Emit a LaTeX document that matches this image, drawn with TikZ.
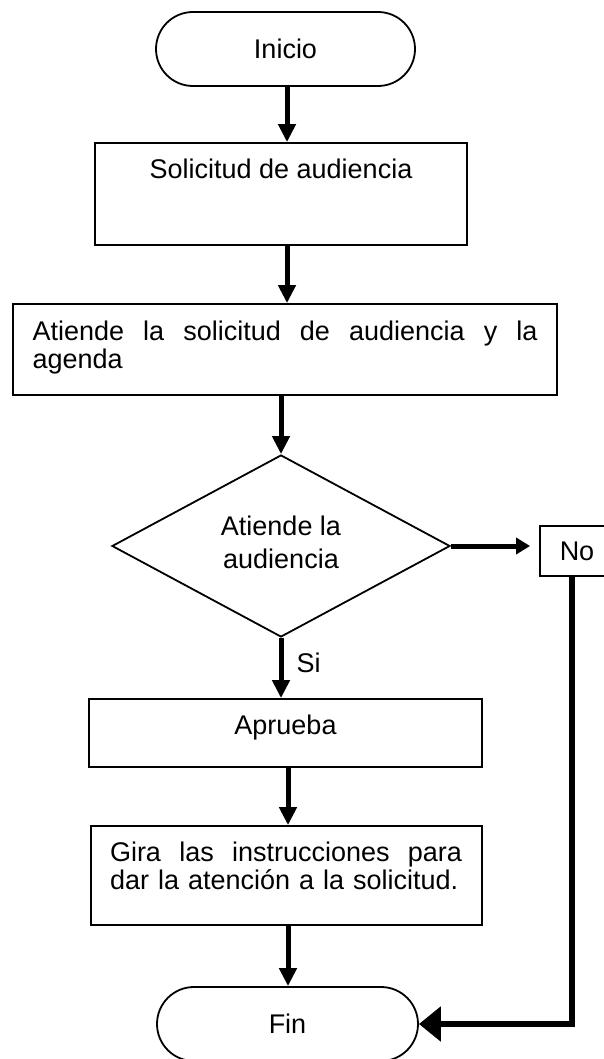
\documentclass[tikz,border=0pt]{standalone}
\usepackage{fontspec}
\setmainfont{Liberation Sans}
\usetikzlibrary{arrows.meta,shapes.geometric}
\tolerance=10000
\hyphenpenalty=10000
\begin{document}
\begin{tikzpicture}[x=1pt,y=-1pt,
  every node/.style={font=\fontsize{27}{28}\selectfont},
  box/.style={draw, line width=1.8pt, inner ysep=0pt, inner xsep=0pt},
  term/.style={draw, line width=1.8pt, rounded corners=37pt, minimum height=74pt, inner sep=0pt},
  flow/.style={line width=5pt, -{Triangle[length=18pt,width=17pt]}},
]
\useasboundingbox (0,0) rectangle (603,1059);

\node[term, minimum width=259pt] (ini) at (285.5,49) {Inicio};
\node[box, minimum width=372pt, text height=36pt, text depth=66pt] (sol) at (281,194) {Solicitud de audiencia};
\node[box, text width=505pt, inner xsep=19.5pt, align=left, text height=36pt, text depth=55pt] (ate) at (285,349.5)
  {\hbox to 505pt{Atiende\hfill la\hfill solicitud\hfill de\hfill audiencia\hfill y\hfill la}\\agenda};
\node[draw, diamond, line width=1.8pt, minimum width=338pt, minimum height=182pt, inner sep=0pt, aspect=1.86,
  align=center, font=\fontsize{27}{33}\selectfont, text height=60pt, text depth=16pt] (dia) at (281,546) {Atiende la\\audiencia};
\node[box, minimum width=74pt, minimum height=50pt] (no) at (577,551) {No};
\node[anchor=west] (si) at (293,663) {Si};
\node[box, minimum width=393pt, text height=35pt, text depth=33pt] (apr) at (285.5,733) {Aprueba};
\node[box, text width=353pt, inner xsep=19pt, align=left, text height=35pt, text depth=64pt] (gir) at (286.5,875.5)
  {\hbox to 352pt{Gira\hfill las\hfill instrucciones\hfill para}\\dar la atención a la solicitud.};
\node[term, minimum width=261pt] (fin) at (287.5,1024) {Fin};

\coordinate (c1) at (287,0);
\coordinate (c2) at (288,0);
\coordinate (c3) at (572,0);

\draw[flow] (ini.south -| c1) -- (sol.north -| c1);
\draw[flow] (sol.south -| c1) -- (ate.north -| c1);
\draw[flow] (ate.south -| dia.north) -- (dia.north);
\draw[flow] (dia.south) -- (apr.north -| dia.south);
\draw[flow] (apr.south -| c2) -- (gir.north -| c2);
\draw[flow] (gir.south -| c2) -- (fin.north -| c2);
\draw[line width=5pt, -{Triangle[length=14pt,width=16pt]}, shorten >=9pt] (dia.east) -- (dia.east -| no.west);
\draw[line width=5.5pt, -{Triangle[length=22pt,width=34pt]}] (no.south -| c3) |- (fin.east);
\end{tikzpicture}
\end{document}
